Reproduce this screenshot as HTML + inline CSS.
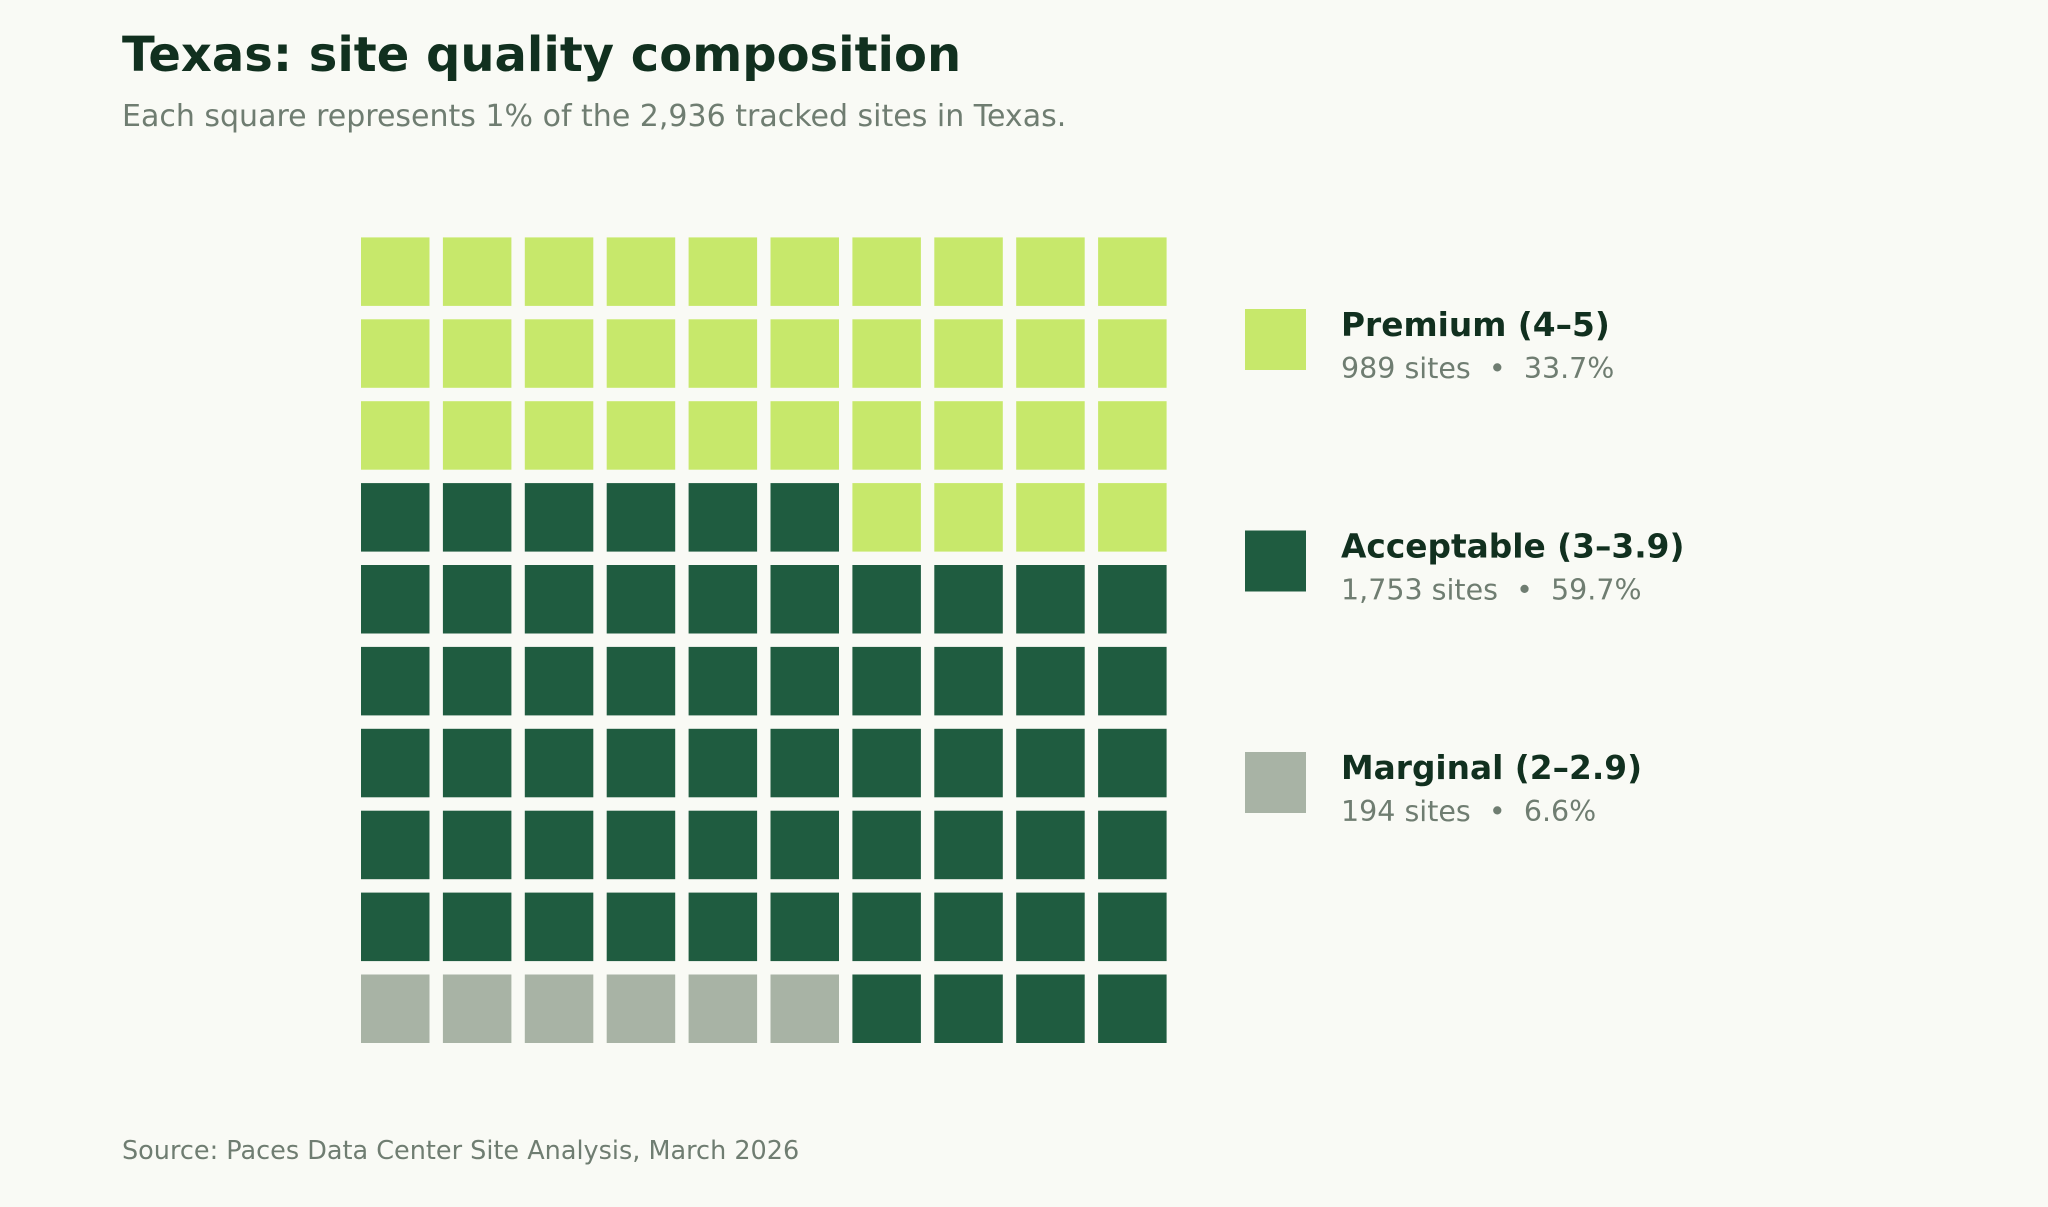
<!DOCTYPE html>
<html><head><meta charset="utf-8">
<style>
html,body{margin:0;padding:0;background:#f9faf5;}
body{width:2048px;height:1207px;position:relative;overflow:hidden;font-family:"DejaVu Sans","Liberation Sans",sans-serif;}
.t{position:absolute;white-space:nowrap;}
</style></head>
<body>
<div class="t" style="left:122px;top:27px;font-size:48px;font-weight:bold;color:#11301f;">Texas: site quality composition</div>
<div class="t" style="left:122px;top:99px;font-size:30px;color:#6f7d71;">Each square represents 1% of the 2,936 tracked sites in Texas.</div>
<svg id="chart" width="2048" height="1207" style="position:absolute;left:0;top:0;"></svg>
<div class="t" style="left:122px;top:1136px;font-size:25.5px;color:#6f7d71;">Source: Paces Data Center Site Analysis, March 2026</div>
<script>
const categories = ["Marginal (2–2.9)", "Acceptable (3–3.9)", "Premium (4–5)"];
const squares = [6, 60, 34];
const siteCounts = ["194", "1,753", "989"];
const percents = ["6.6%", "59.7%", "33.7%"];
const colors = ["#a8b3a5", "#1f5c40", "#c7e86b"];
const legendOrder = [2, 1, 0];

const svg = document.getElementById('chart');
const NS = 'http://www.w3.org/2000/svg';
const gx0 = 361, gyBottom = 1043, pitch = 81.9, cell = 68.5;
function xPos(col){ return gx0 + col*pitch; }
function yPos(row){ return gyBottom - cell - row*pitch; }
let idx = 0;
squares.forEach((n, c) => {
  for (let k = 0; k < n; k++) {
    const row = Math.floor(idx/10), col = idx % 10;
    const r = document.createElementNS(NS, 'rect');
    r.setAttribute('x', xPos(col)); r.setAttribute('y', yPos(row));
    r.setAttribute('width', cell); r.setAttribute('height', cell);
    r.setAttribute('fill', colors[c]);
    
    
    svg.appendChild(r);
    idx++;
  }
});
legendOrder.forEach((c, i) => {
  const y0 = 309 + i*221.5;
  const r = document.createElementNS(NS, 'rect');
  r.setAttribute('x', 1245); r.setAttribute('y', y0);
  r.setAttribute('width', 61); r.setAttribute('height', 61);
  r.setAttribute('fill', colors[c]);
  
  
  svg.appendChild(r);
  const t1 = document.createElementNS(NS, 'text');
  t1.setAttribute('x', 1341); t1.setAttribute('y', y0 + 27);
  t1.setAttribute('font-size', 32.8); t1.setAttribute('font-weight', 'bold');
  t1.setAttribute('fill', '#11301f');
  t1.textContent = categories[c];
  
  
  svg.appendChild(t1);
  const t2 = document.createElementNS(NS, 'text');
  t2.setAttribute('x', 1341); t2.setAttribute('y', y0 + 69);
  t2.setAttribute('font-size', 28.5); t2.setAttribute('fill', '#6f7d71');
  t2.setAttribute('style', 'white-space:pre');
  t2.textContent = siteCounts[c] + ' sites  \u2022  ' + percents[c];
  
  
  svg.appendChild(t2);
});
</script>
</body></html>
